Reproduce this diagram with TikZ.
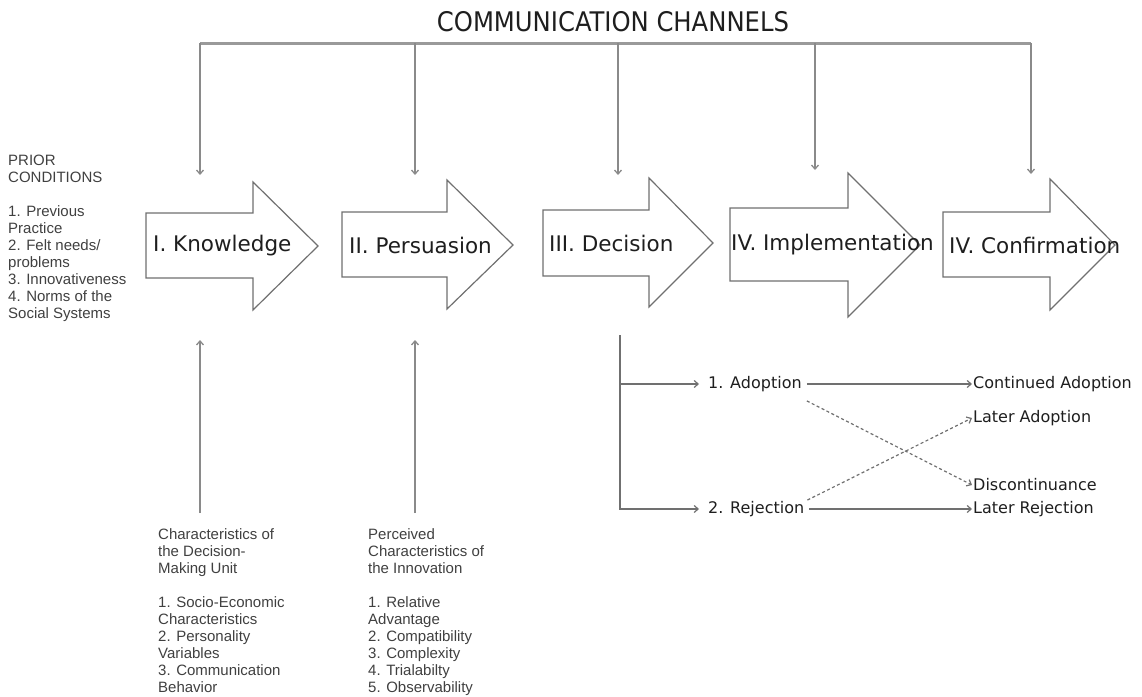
\documentclass[tikz,border=0pt]{standalone}
\usepackage{fontspec}
\setmainfont{DejaVu Sans}
\newfontfamily\arialf{Liberation Sans}
\newfontfamily\condf{DejaVu Sans Condensed}
\usetikzlibrary{arrows.meta}
\definecolor{linegray}{HTML}{8A8A8A}
\definecolor{bargray}{HTML}{9A9A9A}
\definecolor{boxgray}{HTML}{707070}
\definecolor{ink}{HTML}{1E1E1E}
\begin{document}
\begin{tikzpicture}[x=1pt,y=-1pt,
  chan/.style={draw=linegray, line width=1.3pt, -{Straight Barb[length=4pt,width=7pt]}},
  bar/.style={draw=bargray, line width=3pt},
  blk/.style={draw=boxgray, line width=1.2pt, fill=white, line join=miter},
  stage/.style={font=\fontsize{21.5}{25}\selectfont, text=ink, inner sep=0pt, anchor=west},
  small/.style={font=\arialf\fontsize{15}{17}\selectfont, text=ink!85, align=left, inner sep=0pt, anchor=north west},
  outcome/.style={font=\fontsize{16}{19}\selectfont, text=ink, inner sep=1pt, anchor=west},
  flow/.style={draw=boxgray, line width=1.2pt, -{Straight Barb[length=4pt,width=7pt]}},
  dflow/.style={flow, dash pattern=on 3pt off 2.5pt}
]
\useasboundingbox (0,0) rectangle (1142,696);

% title and channel bar
\node[font=\condf\fontsize{27}{31}\selectfont, text=ink] (title) at (613,22) {COMMUNICATION CHANNELS};
\coordinate (b1) at (200,43);
\coordinate (b2) at (415,43);
\coordinate (b3) at (618,43);
\coordinate (b4) at (815,43);
\coordinate (b5) at (1031,43);
\draw[bar] (b1) -- (b5);
\coordinate (e1) at (200,175);
\coordinate (e2) at (415,175);
\coordinate (e3) at (618,175);
\coordinate (e4) at (815,170);
\coordinate (e5) at (1031,174);
\draw[chan] (b1) -- (e1);
\draw[chan] (b2) -- (e2);
\draw[chan] (b3) -- (e3);
\draw[chan] (b4) -- (e4);
\draw[chan] (b5) -- (e5);

% stage arrows
\draw[blk] (146,213) -- (253,213) -- (253,182) -- (318,246) -- (253,310) -- (253,278) -- (146,278) -- cycle;
\node[stage] (know) at (153,246) {I. Knowledge};
\draw[blk] (342,212) -- (447,212) -- (447,180) -- (513,245) -- (447,309) -- (447,277) -- (342,277) -- cycle;
\node[stage] (pers) at (349,245) {II. Persuasion};
\draw[blk] (543,210) -- (649,210) -- (649,178) -- (713,243) -- (649,307) -- (649,276) -- (543,276) -- cycle;
\node[stage] (deci) at (549,243) {III. Decision};
\draw[blk] (730,208) -- (848,208) -- (848,173) -- (920,245) -- (848,317) -- (848,281) -- (730,281) -- cycle;
\node[stage] (impl) at (731,245) {IV. Implementation};
\draw[blk] (943,212) -- (1050,212) -- (1050,179) -- (1115,245) -- (1050,310) -- (1050,277) -- (943,277) -- cycle;
\node[stage] (conf) at (949,245) {IV. Confirmation};

% prior conditions
\node[small] (prior) at (8,155) {PRIOR\\CONDITIONS\\[17pt]1. Previous\\Practice\\2. Felt needs/\\problems\\3. Innovativeness\\4. Norms of the\\Social Systems};

% lower characteristics
\node[small] (dmu) at (158,528) {Characteristics of\\the Decision-\\Making Unit\\[17pt]1. Socio-Economic\\Characteristics\\2. Personality\\Variables\\3. Communication\\Behavior};
\node[small] (pci) at (368,528) {Perceived\\Characteristics of\\the Innovation\\[17pt]1. Relative\\Advantage\\2. Compatibility\\3. Complexity\\4. Trialabilty\\5. Observability};
\coordinate (k1) at (200,340);
\coordinate (p1) at (415,340);
\draw[chan] ([yshift=15pt]dmu.north west -| k1) -- (k1);
\draw[chan] ([yshift=15pt]pci.north west -| p1) -- (p1);

% decision outcomes
\coordinate (dtop) at (620,335);
\node[outcome] (adopt) at (707,384) {1. Adoption};
\node[outcome] (reject) at (707,509) {2. Rejection};
\node[outcome] (cont) at (972,384) {Continued Adoption};
\node[outcome] (latA) at (972,418) {Later Adoption};
\node[outcome] (disc) at (972,485) {Discontinuance};
\node[outcome] (latR) at (972,509) {Later Rejection};
\draw[flow, shorten >=8pt] (dtop) |- (reject.west);
\draw[flow, shorten >=8pt] (dtop |- adopt.west) -- (adopt.west);
\draw[flow, shorten <=4pt] (adopt.east) -- (cont.west);
\draw[flow, shorten <=4pt] (reject.east) -- (latR.west);
\draw[dflow] ([xshift=4pt,yshift=-8pt]adopt.south east) -- (disc.west);
\draw[dflow] ([xshift=2pt]reject.north east) -- (latA.west);
\end{tikzpicture}
\end{document}
